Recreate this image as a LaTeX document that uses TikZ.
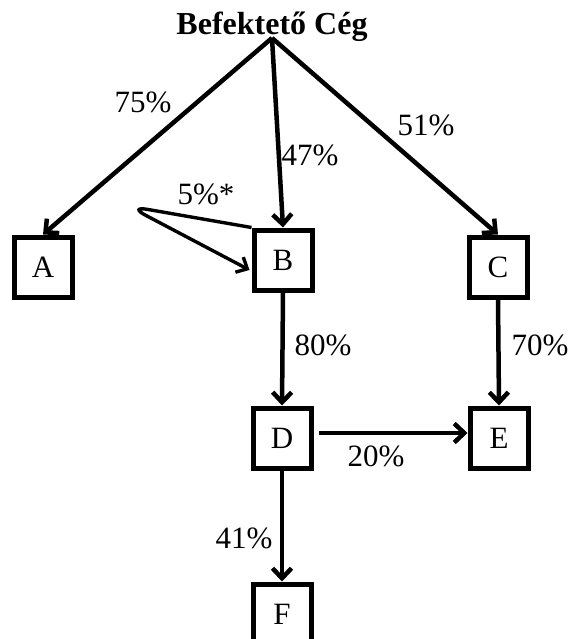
\documentclass[tikz,border=0pt]{standalone}
\usepackage{fontspec}
\setmainfont{Liberation Serif}
\usetikzlibrary{arrows.meta,calc}
\begin{document}
\begin{tikzpicture}[x=1pt,y=-1pt,
  box/.style={draw,line width=5pt,minimum width=58pt,minimum height=60pt,inner sep=0pt,font=\fontsize{31}{36}\selectfont},
  lbl/.style={anchor=base,inner sep=0pt,font=\fontsize{31}{36}\selectfont},
  arr/.style={line width=4.5pt,-{Straight Barb[length=10pt,width=19pt]}}]
\useasboundingbox (0,0) rectangle (570,639);
\clip (0,0) rectangle (570,639);
\node[lbl,font=\fontsize{32}{36}\selectfont\bfseries] (title) at (272,35) {Befektető Cég};
\coordinate (top) at (272,38);
\node[box] (A) at (43,267) {A};
\node[box] (B) at (283,260) {B};
\node[box] (C) at (498,267) {C};
\node[box] (D) at (282,438) {D};
\node[box] (E) at (499,438) {E};
\node[box] (F) at (282,614) {F};
\draw[arr] (top) -- (A.north);
\draw[arr] (top) -- (B.north);
\draw[arr] (top) -- (C.north);
\draw[arr] (B.south) -- (D.north);
\draw[arr] (C.south) -- (E.north);
\draw[arr] ($(D.east)+(5,-5)$) -- ($(E.west)+(0,-5)$);
\draw[arr] (D.south) -- (F.north);
\coordinate (loopL) at (128,206);
\draw[line width=3.4pt,rounded corners=20pt,-{Straight Barb[length=9pt,width=17pt]}] (B.north west) -- (loopL) -- ($(B.west)+(-2,10)$);
\node[lbl] (l75) at (143,113) {75\%};
\node[lbl] (l47) at (310,166) {47\%};
\node[lbl] (l51) at (426,136) {51\%};
\node[lbl] (l5) at (206,204) {5\%*};
\node[lbl] (l80) at (323,355) {80\%};
\node[lbl] (l70) at (540,355) {70\%};
\node[lbl] (l20) at (376,466) {20\%};
\node[lbl] (l41) at (244,548) {41\%};
\end{tikzpicture}
\end{document}
